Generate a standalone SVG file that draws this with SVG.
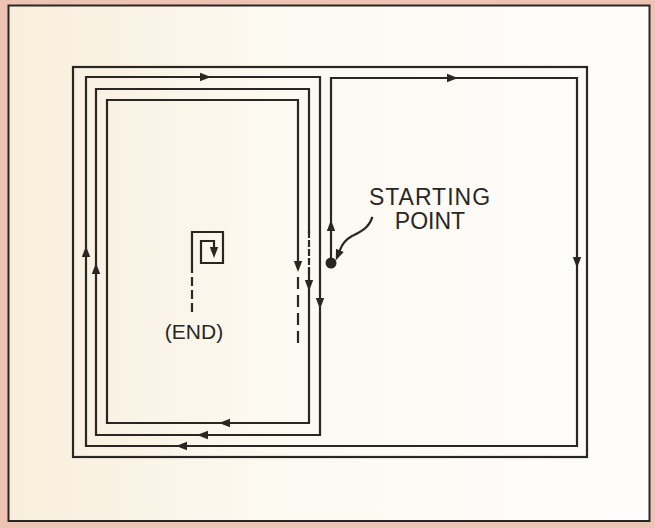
<svg xmlns="http://www.w3.org/2000/svg" xmlns:xlink="http://www.w3.org/1999/xlink" width="655" height="528" viewBox="0 0 655 528">
<style>
.ln{fill:none;stroke:#2a2622;stroke-width:2.2;stroke-linecap:square;stroke-linejoin:miter}
.ah{fill:#2a2622}
.lbl{font-family:"Liberation Sans",Arial,sans-serif;fill:#2a2622;text-anchor:middle}
</style>
<defs>
<linearGradient id="bg" x1="0" y1="0" x2="1" y2="0">
<stop offset="0" stop-color="#f8eedb"/>
<stop offset="0.4" stop-color="#fcf9f1"/>
<stop offset="1" stop-color="#fefdfb"/>
</linearGradient>
<path id="a" d="M6,0 L-5,-4.2 L-5,4.2 Z"/>
</defs>
<rect x="0" y="0" width="655" height="528" fill="#eec3b4"/>
<rect id="frame" x="8.5" y="5.5" width="641" height="515.5" fill="url(#bg)" stroke="#2a2622" stroke-width="2"/>
<g id="room">
<rect class="ln" x="73" y="67" width="514" height="390"/>
</g>
<g id="connectors">
<path class="ln" d="M331,263 V78 H577 V446 H86 V77 H320 V435 H96 V89 H309 V232 M309,272 V423 H107 V100 H298 V268"/>
<path class="ln" d="M309,232 V272" stroke-dasharray="5 4" stroke-width="1.6"/>
<path class="ln" d="M298,278 V344" stroke-dasharray="10 8" stroke-linecap="butt"/>
<path class="ln" d="M192,311 V263" stroke-dasharray="7 6" stroke-linecap="butt"/>
<path class="ln" d="M192,263 V232 H223 V263 H201 V241 H214 V250"/>
<g class="ah">
<use xlink:href="#a" transform="translate(205,77)"/>
<use xlink:href="#a" transform="translate(452,78)"/>
<use xlink:href="#a" transform="translate(577,262) rotate(90)"/>
<use xlink:href="#a" transform="translate(182,446) rotate(180)"/>
<use xlink:href="#a" transform="translate(203,435) rotate(180)"/>
<use xlink:href="#a" transform="translate(225,423) rotate(180)"/>
<use xlink:href="#a" transform="translate(86,252) rotate(-90)"/>
<use xlink:href="#a" transform="translate(96,269) rotate(-90)"/>
<use xlink:href="#a" transform="translate(331,226) rotate(-90)"/>
<use xlink:href="#a" transform="translate(298,266) rotate(90)"/>
<use xlink:href="#a" transform="translate(309,285) rotate(90)"/>
<use xlink:href="#a" transform="translate(320,303) rotate(90)"/>
<use xlink:href="#a" transform="translate(214,252) rotate(90)"/>
</g>
<path class="ln" d="M372,218 C368,229 360,232 352,236 C345,240 342,244 340,250" stroke-linecap="round"/>
<use class="ah" xlink:href="#a" transform="translate(338,255) rotate(112)"/>
</g>
<g id="start">
<circle cx="331" cy="263" r="5.5" fill="#2a2622"/>
<text class="lbl" x="430" y="205" font-size="23" letter-spacing="1">STARTING</text>
<text class="lbl" x="430" y="229" font-size="23">POINT</text>
</g>
<g id="end">
<text class="lbl" x="194" y="339" font-size="21">(END)</text>
</g>
</svg>
